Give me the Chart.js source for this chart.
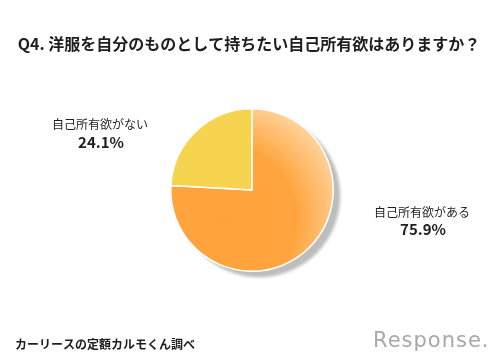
<!DOCTYPE html>
<html>
<head>
<meta charset="utf-8">
<script src="https://cdn.jsdelivr.net/npm/chart.js@4/dist/chart.umd.min.js"></script>
<style>
  html, body { margin: 0; padding: 0; background: #fff; }
  #wrap { width: 500px; height: 360px; position: relative; }
</style>
</head>
<body>
<div id="wrap"><canvas id="chart1" width="500" height="360"></canvas></div>
<script>
const title = 'Q4. 洋服を自分のものとして持ちたい自己所有欲はありますか？';
const labels = ['自己所有欲がある', '自己所有欲がない'];
const values = [75.9, 24.1];
const colors = ['#ffa33c', '#f7d44f'];
const source = 'カーリースの定額カルモくん調べ';

const FONT = '"Noto Sans CJK JP", "Noto Sans", sans-serif';

// grey drop shadow behind the pie
const shadowPlugin = {
  id: 'shadow',
  beforeDatasetsDraw(chart) {
    const arc = chart.getDatasetMeta(0).data[0];
    if (!arc) return;
    const ctx = chart.ctx;
    ctx.save();
    ctx.fillStyle = '#bdbdbd';
    ctx.filter = 'blur(1.5px)';
    ctx.beginPath();
    ctx.arc(arc.x + 7, arc.y + 6, arc.outerRadius, 0, Math.PI * 2);
    ctx.fill();
    ctx.restore();
  }
};

// texts outside the pie
const textPlugin = {
  id: 'texts',
  afterDraw(chart) {
    const ctx = chart.ctx;
    ctx.save();
    ctx.textAlign = 'center';
    ctx.textBaseline = 'middle';
    ctx.fillStyle = '#1e1e1e';
    ctx.font = 'bold 16px ' + FONT;
    ctx.fillText(title, 249, 44);

    ctx.font = '12px ' + FONT;
    ctx.fillText(labels[1], 100, 124);
    ctx.fillText(labels[0], 422, 212);
    ctx.font = 'bold 15px ' + FONT;
    ctx.fillText(values[1].toFixed(1) + '%', 101, 142);
    ctx.fillText(values[0].toFixed(1) + '%', 423, 229);

    ctx.textAlign = 'left';
    ctx.font = 'bold 12px ' + FONT;
    ctx.fillText(source, 15, 344);

    ctx.fillStyle = '#a8a8a8';
    ctx.font = '21px "DejaVu Sans", sans-serif';
    ctx.letterSpacing = '1px';
    ctx.fillText('Response.', 373, 342);
    ctx.restore();
  }
};

function sliceFill(context) {
  const i = context.dataIndex;
  if (i !== 0) return colors[i];
  const chart = context.chart;
  const area = chart.chartArea;
  if (!area) return colors[0];
  const cx = (area.left + area.right) / 2;
  const cy = (area.top + area.bottom) / 2;
  const r = Math.min(area.right - area.left, area.bottom - area.top) / 2;
  const g = chart.ctx.createRadialGradient(cx - r * 0.35, cy + r * 0.35, 0,
                                          cx - r * 0.35, cy + r * 0.35, r * 1.45);
  g.addColorStop(0, '#ffa23a');
  g.addColorStop(0.62, '#ffa53f');
  g.addColorStop(1, '#ffd095');
  return g;
}

new Chart(document.getElementById('chart1').getContext('2d'), {
  type: 'pie',
  data: {
    labels: labels,
    datasets: [{
      data: values,
      backgroundColor: sliceFill,
      borderColor: '#ffffff',
      borderWidth: 1.5
    }]
  },
  options: {
    responsive: false,
    animation: false,
    layout: {
      padding: { top: 108, bottom: 88, left: 100, right: 96 }
    },
    plugins: {
      legend: { display: false },
      tooltip: { enabled: false }
    }
  },
  plugins: [shadowPlugin, textPlugin]
});
</script>
</body>
</html>
